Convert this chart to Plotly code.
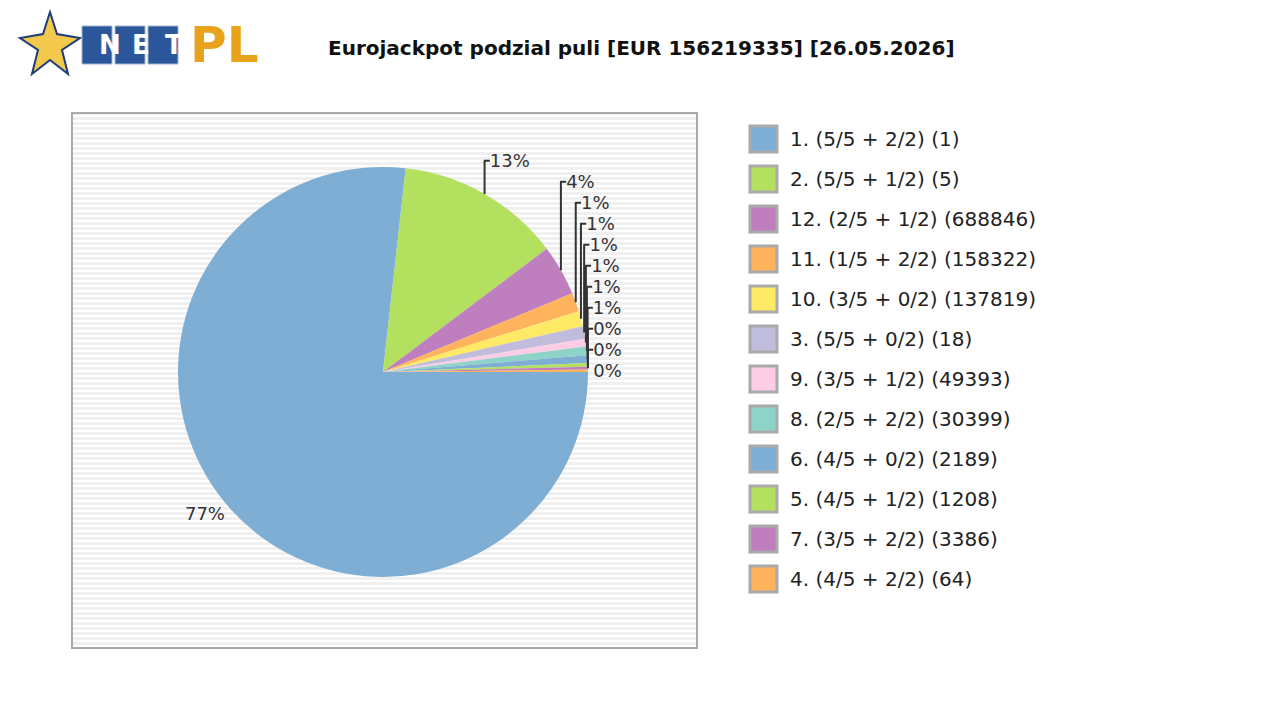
import plotly.graph_objects as go

labels = ["1. (5/5 + 2/2) (1)", "2. (5/5 + 1/2) (5)", "12. (2/5 + 1/2) (688846)",
          "11. (1/5 + 2/2) (158322)", "10. (3/5 + 0/2) (137819)", "3. (5/5 + 0/2) (18)",
          "9. (3/5 + 1/2) (49393)", "8. (2/5 + 2/2) (30399)", "6. (4/5 + 0/2) (2189)",
          "5. (4/5 + 1/2) (1208)", "7. (3/5 + 2/2) (3386)", "4. (4/5 + 2/2) (64)"]
shares = [77.0, 13.0, 4.0, 1.5, 1.2, 1.0, 0.6, 0.7, 0.6, 0.3, 0.2, 0.2]
colors = ["#7eaed4", "#b3e05e", "#bf7fbf", "#ffb35c", "#ffea66", "#c0bcdc",
          "#fccde5", "#8dd3c7", "#7eaed4", "#b3e05e", "#bf7fbf", "#ffb35c"]

W, H = 1280, 720
OFF = 8  # page margin offset


def px(x):
    return (x - OFF) / W


def py(y):
    return 1 - (y - OFF) / H


fig = go.Figure()
cx, cy, r = 383, 372, 205
fig.add_trace(go.Pie(
    labels=labels, values=shares, sort=False, direction="clockwise", rotation=90,
    marker=dict(colors=colors, line=dict(width=0)),
    texttemplate="%{percent:.0%}", textposition="outside",
    textfont=dict(family="DejaVu Sans", size=18, color="#333"),
    showlegend=False, hoverinfo="label+percent",
    domain=dict(x=[px(cx - r), px(cx + r)], y=[py(cy + r), py(cy - r)]),
))

shapes = [dict(type="rect", xref="paper", yref="paper", x0=px(72), x1=px(697),
               y0=py(648), y1=py(113), fillcolor="#f0f0f0",
               line=dict(color="#aaaaaa", width=2), layer="below")]
for yy in range(116, 647, 5):
    shapes.append(dict(type="line", xref="paper", yref="paper", x0=px(73), x1=px(696),
                       y0=py(yy), y1=py(yy), line=dict(color="white", width=2),
                       layer="below"))
annotations = [dict(text="<b>Eurojackpot podzial puli [EUR 156219335] [26.05.2026]</b>",
                    x=px(641), y=py(48), xref="paper", yref="paper", showarrow=False,
                    yanchor="middle", font=dict(family="DejaVu Sans", size=20, color="#111"))]
for i, (lab, c) in enumerate(zip(labels, colors)):
    yc = 139 + 40 * i
    shapes.append(dict(type="rect", xref="paper", yref="paper", x0=px(750), x1=px(777),
                       y0=py(yc + 13), y1=py(yc - 13), fillcolor=c,
                       line=dict(color="#aaaaaa", width=3)))
    annotations.append(dict(text=lab, x=px(788), y=py(yc), xref="paper", yref="paper",
                            xanchor="left", yanchor="middle", showarrow=False,
                            font=dict(family="DejaVu Sans", size=20, color="#222")))

# logo
star = [(50, 12), (57, 34), (80, 38), (62, 50), (68, 74), (50, 60),
        (32, 74), (38, 50), (20, 38), (43, 34)]
path = "M " + " L ".join("{} {}".format(px(a), py(b)) for a, b in star) + " Z"
shapes.append(dict(type="path", xref="paper", yref="paper", fillcolor="#f2c94c",
                   line=dict(color="#1d3e78", width=2), path=path))
for j, ch in enumerate("NET"):
    x0 = 82 + j * 33
    shapes.append(dict(type="rect", xref="paper", yref="paper", x0=px(x0), x1=px(x0 + 30),
                       y0=py(64), y1=py(26), fillcolor="#2b579a",
                       line=dict(color="#a0b4d0", width=1)))
    annotations.append(dict(text="<b>" + ch + "</b>", x=px(x0 + 15), y=py(45),
                            xref="paper", yref="paper", showarrow=False, yanchor="middle",
                            font=dict(family="DejaVu Sans", size=26, color="white")))
annotations.append(dict(text="<b>PL</b>", x=px(188), y=py(45), xref="paper", yref="paper",
                        showarrow=False, xanchor="left", yanchor="middle",
                        font=dict(family="DejaVu Sans", size=50, color="#e8a21c")))

fig.update_layout(width=W, height=H, margin=dict(l=0, r=0, t=0, b=0),
                  paper_bgcolor="white", plot_bgcolor="white",
                  shapes=shapes, annotations=annotations)
fig.write_html("out.html")
